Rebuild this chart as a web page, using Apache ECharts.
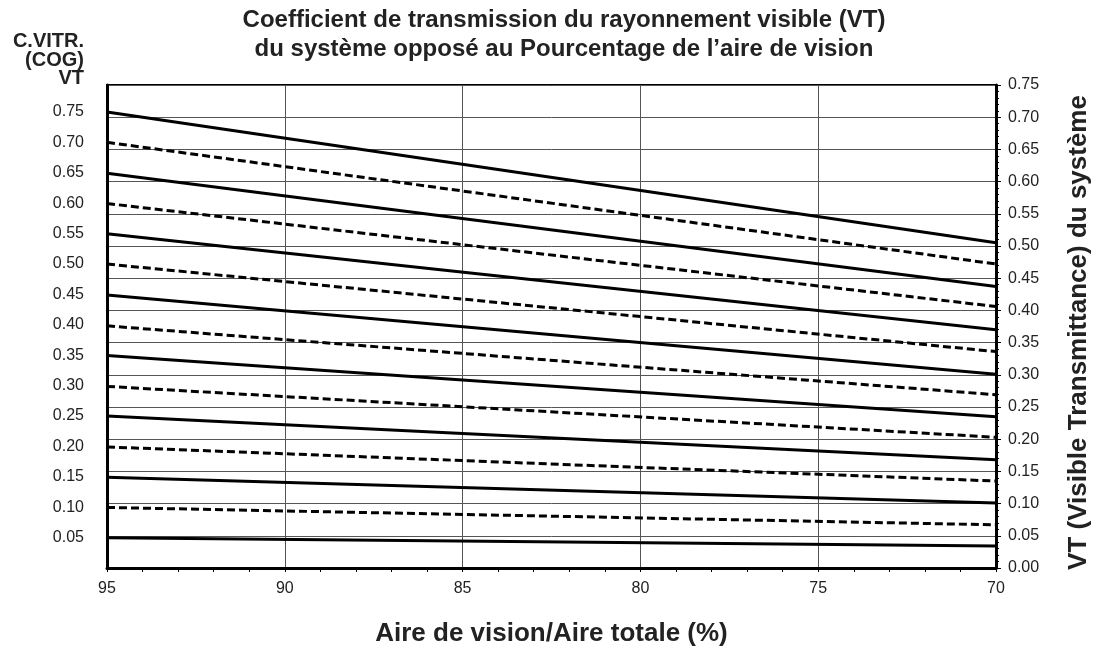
<!DOCTYPE html>
<html>
<head>
<meta charset="utf-8">
<script src="https://cdn.jsdelivr.net/npm/echarts@6/dist/echarts.min.js"></script>
<style>html,body{margin:0;padding:0;background:#fff;}#c{width:1100px;height:646px;}</style>
</head>
<body>
<div id="c"></div>
<script>
// Centre-of-glass VT (left axis labels, line start positions)
const cogValues = [0.05, 0.10, 0.15, 0.20, 0.25, 0.30, 0.35, 0.40, 0.45, 0.50, 0.55, 0.60, 0.65, 0.70, 0.75];
// System VT at 95 % vision area (right axis)
const vtAt95 = [0.047, 0.094, 0.141, 0.188, 0.236, 0.282, 0.330, 0.376, 0.424, 0.472, 0.519, 0.566, 0.613, 0.661, 0.708];
// System VT at 70 % vision area (right axis)
const vtAt70 = [0.034, 0.067, 0.101, 0.135, 0.168, 0.203, 0.235, 0.269, 0.301, 0.336, 0.370, 0.406, 0.437, 0.472, 0.505];
const visionPct = [95, 70];
const leftAxisMax = 0.7945;   // COG scale top (aligned with right axis 0.75)
const rightAxisMax = 0.75;

const FONT = '"Liberation Sans", Arial, sans-serif';

const series = cogValues.map((c, i) => ({
  type: 'line',
  name: c.toFixed(2),
  yAxisIndex: 1,
  symbol: 'none',
  silent: true,
  animation: false,
  lineStyle: {
    color: '#000',
    width: 3,
    type: (i % 2 === 1) ? [8, 4] : 'solid'
  },
  data: [[visionPct[0], vtAt95[i]], [visionPct[1], vtAt70[i]]]
}));

const chart = echarts.init(document.getElementById('c'), null, {renderer: 'canvas'});
chart.setOption({
  backgroundColor: '#fff',
  animation: false,
  title: {
    text: 'Coefficient de transmission du rayonnement visible (VT)\ndu système opposé au Pourcentage de l\u2019aire de vision',
    left: 559,
    textAlign: 'center',
    top: 1,
    textStyle: {fontFamily: FONT, fontWeight: 'bold', fontSize: 24, color: '#222', lineHeight: 29}
  },
  grid: {left: 107, right: 104, top: 85, bottom: 78, containLabel: false, outerBoundsMode: 'none',
         show: true, borderColor: '#000', borderWidth: 2, backgroundColor: 'transparent'},
  xAxis: {
    type: 'value',
    min: 70, max: 95, interval: 5,
    inverse: true,
    name: 'Aire de vision/Aire totale (%)',
    nameLocation: 'middle',
    nameGap: 53,
    nameTextStyle: {fontFamily: FONT, fontWeight: 'bold', fontSize: 26, color: '#222'},
    axisLine: {show: true, lineStyle: {color: '#000', width: 3}},
    axisTick: {show: true, length: 4, inside: false, lineStyle: {color: '#000', width: 1}},
    minorTick: {show: true, splitNumber: 5, length: 4, lineStyle: {color: '#000', width: 1}},
    splitLine: {show: true, lineStyle: {color: '#555', width: 1}},
    axisLabel: {fontFamily: FONT, fontSize: 16, color: '#222', margin: 13}
  },
  yAxis: [
    {
      type: 'value',
      position: 'left',
      min: 0, max: leftAxisMax, interval: 0.05,
      name: 'C.VITR.\n(COG)\nVT',
      nameLocation: 'end',
      nameGap: -3,
      nameTextStyle: {fontFamily: FONT, fontWeight: 'bold', fontSize: 20, color: '#222', align: 'right', lineHeight: 18.5, padding: [0, 23, 0, 0]},
      axisLine: {show: true, lineStyle: {color: '#000', width: 3}},
      axisTick: {show: false},
      splitLine: {show: false},
      axisLabel: {
        fontFamily: FONT, fontSize: 16, color: '#222', margin: 23,
        showMinLabel: false, showMaxLabel: false,
        formatter: v => v.toFixed(2)
      }
    },
    {
      type: 'value',
      position: 'right',
      min: 0, max: rightAxisMax, interval: 0.05,
      name: 'VT (Visible Transmittance) du système',
      nameLocation: 'middle',
      nameRotate: 90,
      nameGap: 70,
      nameTextStyle: {fontFamily: FONT, fontWeight: 'bold', fontSize: 26, color: '#222', padding: [0, 12, 0, 0]},
      axisLine: {show: true, lineStyle: {color: '#000', width: 3}},
      axisTick: {show: true, length: 5, lineStyle: {color: '#000', width: 1}},
      minorTick: {show: true, splitNumber: 5, length: 3, lineStyle: {color: '#000', width: 1}},
      splitLine: {show: true, lineStyle: {color: '#555', width: 1}},
      axisLabel: {fontFamily: FONT, fontSize: 16, color: '#222', margin: 12, formatter: v => v.toFixed(2)}
    }
  ],
  series: series
});
</script>
</body>
</html>
